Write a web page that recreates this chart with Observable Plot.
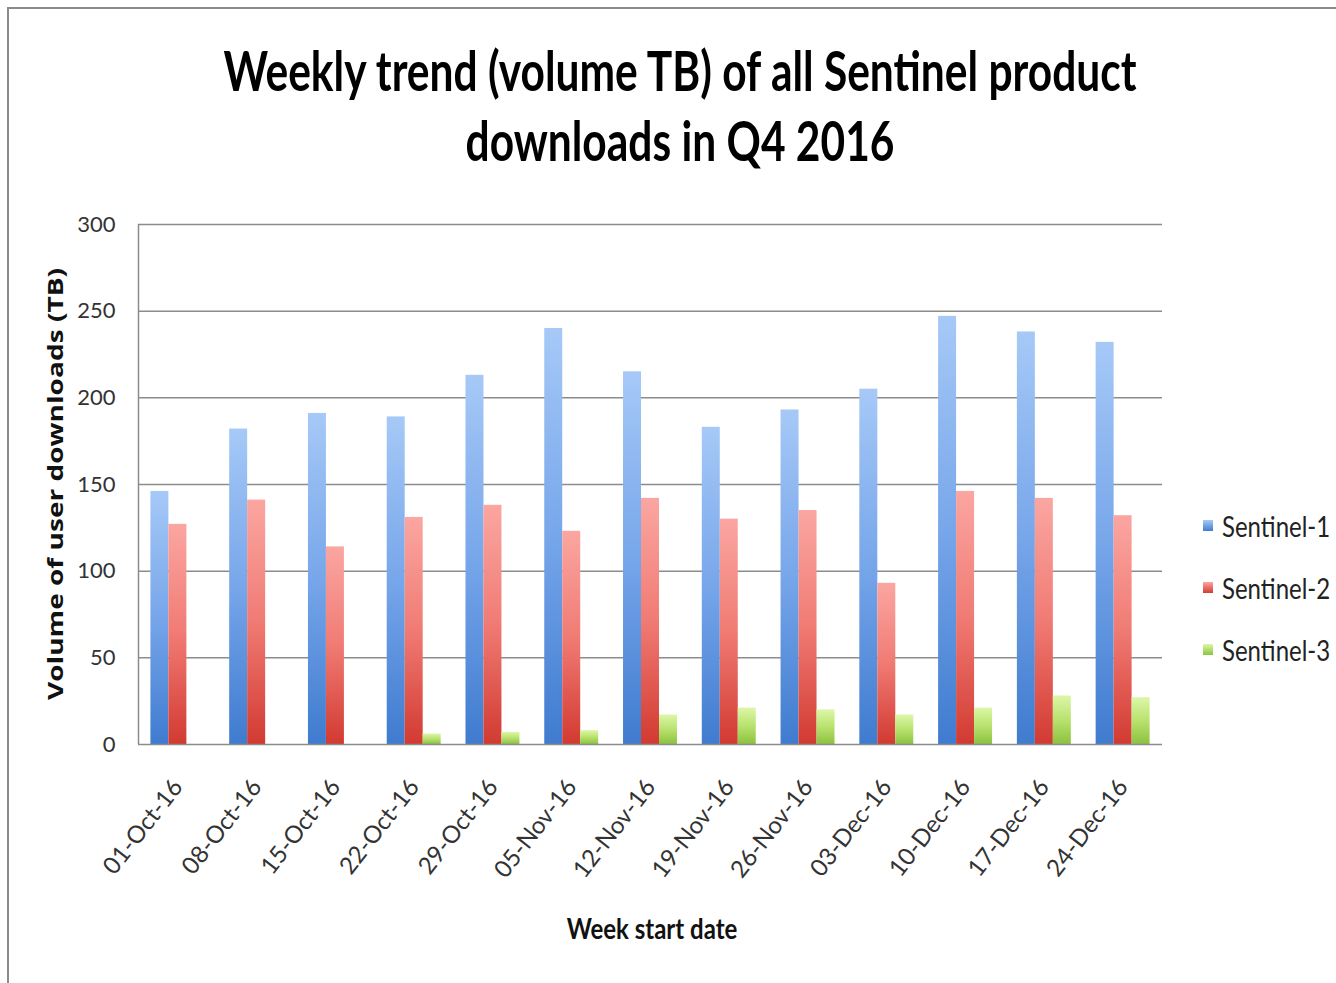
<!DOCTYPE html>
<html>
<head>
<meta charset="utf-8">
<script src="https://cdn.jsdelivr.net/npm/d3@7"></script>
<script src="https://cdn.jsdelivr.net/npm/@observablehq/plot@0.6"></script>
<style>
  html, body { margin: 0; padding: 0; background: #fff; }
  #wrap { position: relative; width: 1336px; height: 983px; overflow: hidden; background: #fff; font-family: Lato, "Open Sans", sans-serif; }
  #border { position: absolute; left: 7px; top: 7px; width: 1400px; height: 1100px; border-left: 2px solid #8a8a8a; border-top: 2px solid #8a8a8a; }
  #title { position: absolute; left: 0; top: 35px; width: 1360px; text-align: center; font-weight: 700; font-size: 42.5px; line-height: 54px; color: #000; transform-origin: 50% 0; transform: scaleY(1.3); }
  #chart { position: absolute; left: 0; top: 200px; }
  #xlabel { position: absolute; left: 552px; top: 910px; width: 200px; text-align: center; font-weight: 700; font-size: 24px; color: #111; transform-origin: 50% 0; transform: scaleY(1.2); }
  #legend { position: absolute; left: 1203px; top: 494px; }
  .item { display: flex; align-items: center; height: 62px; font-size: 24px; color: #222; }
  .sw { width: 10px; height: 11px; margin-right: 9px; }
</style>
</head>
<body>
<div id="wrap">
  <div id="border"></div>
  <div id="title">Weekly trend (volume TB) of all Sentinel product<br>downloads in Q4 2016</div>
  <div id="chart"></div>
  <div id="xlabel">Week start date</div>
  <div id="legend"></div>
</div>
<script>
const weeks = ["01-Oct-16","08-Oct-16","15-Oct-16","22-Oct-16","29-Oct-16","05-Nov-16","12-Nov-16","19-Nov-16","26-Nov-16","03-Dec-16","10-Dec-16","17-Dec-16","24-Dec-16"];
const seriesNames = ["Sentinel-1","Sentinel-2","Sentinel-3"];
const sentinel1 = [146, 182, 191, 189, 213, 240, 215, 183, 193, 205, 247, 238, 232];
const sentinel2 = [127, 141, 114, 131, 138, 123, 142, 130, 135, 93, 146, 142, 132];
const sentinel3 = [0, 0, 0, 6, 7, 8, 17, 21, 20, 17, 21, 28, 27];
const yTicks = [0, 50, 100, 150, 200, 250, 300];

const seriesValues = [sentinel1, sentinel2, sentinel3];
const gradients = [
  {id: "gS1", stops: ["#a6c9f7", "#77a6ea", "#3f7bcf"]},
  {id: "gS2", stops: ["#fba6a1", "#f07b74", "#d23a31"]},
  {id: "gS3", stops: ["#dcf7a8", "#b9e26f", "#8cc23f"]}
];

const W = 1336, H = 700, mL = 138, mR = 174, mT = 24, mB = 156;
const pad = 0.315;
const step = (W - mL - mR) / weeks.length;
const sub = step * (1 - pad) / 3;

const data = seriesNames.map((s, k) => weeks.map((w, i) => ({week: w, series: s, value: seriesValues[k][i]})));

const chart = Plot.plot({
  width: W, height: H,
  marginLeft: mL, marginRight: mR, marginTop: mT, marginBottom: mB,
  style: {fontFamily: "Lato, 'Open Sans', sans-serif", background: "transparent", overflow: "visible"},
  x: {domain: weeks, paddingInner: pad, paddingOuter: pad / 2, round: false, label: null},
  y: {domain: [0, 300], label: null},
  marks: [
    Plot.gridY(yTicks.filter(d => d > 0), {stroke: "#8c8c8c", strokeOpacity: 1, strokeWidth: 1.5}),
    Plot.axisY(yTicks, {tickSize: 0, tickPadding: 23, fontSize: 22, fill: "#333", label: null}),
    Plot.axisX({tickSize: 0, tickPadding: 38, tickRotate: -52, fontSize: 24, fill: "#333", label: null}),
    ...data.map((d, k) => Plot.barY(d, {
      x: "week", y: "value", fill: `url(#${gradients[k].id})`,
      insetLeft: k * sub, insetRight: (2 - k) * sub
    })),
    Plot.ruleY([0], {stroke: "#8c8c8c", strokeWidth: 1.5}),
    Plot.ruleX([weeks[0]], {dx: -step / 2, stroke: "#8c8c8c", strokeWidth: 1.5})
  ]
});

// gradient definitions
const ns = "http://www.w3.org/2000/svg";
const defs = document.createElementNS(ns, "defs");
gradients.forEach(g => {
  const lg = document.createElementNS(ns, "linearGradient");
  lg.setAttribute("id", g.id);
  lg.setAttribute("x1", "0"); lg.setAttribute("y1", "0");
  lg.setAttribute("x2", "0"); lg.setAttribute("y2", "1");
  g.stops.forEach((c, i) => {
    const st = document.createElementNS(ns, "stop");
    st.setAttribute("offset", `${i * 50}%`);
    st.setAttribute("stop-color", c);
    lg.appendChild(st);
  });
  defs.appendChild(lg);
});
chart.insertBefore(defs, chart.firstChild);

// y axis title
const yt = document.createElementNS(ns, "text");
yt.setAttribute("transform", `translate(63, ${mT + (H - mT - mB) / 2}) rotate(-90)`);
yt.setAttribute("text-anchor", "middle");
yt.setAttribute("font-family", "'Open Sans', sans-serif");
yt.setAttribute("font-weight", "700");
yt.setAttribute("font-size", "22");
yt.setAttribute("fill", "#111");
yt.setAttribute("textLength", "432");
yt.setAttribute("lengthAdjust", "spacingAndGlyphs");
yt.textContent = "Volume of user downloads (TB)";
chart.appendChild(yt);

document.getElementById("chart").appendChild(chart);

const legend = document.getElementById("legend");
seriesNames.forEach((s, k) => {
  const it = document.createElement("div");
  it.className = "item";
  const sw = document.createElement("div");
  sw.className = "sw";
  sw.style.background = `linear-gradient(${gradients[k].stops[0]}, ${gradients[k].stops[2]})`;
  it.appendChild(sw);
  const t = document.createElement("span");
  t.textContent = s;
  t.style.display = "inline-block";
  t.style.transform = "scaleY(1.2)";
  it.appendChild(t);
  legend.appendChild(it);
});
</script>
</body>
</html>
